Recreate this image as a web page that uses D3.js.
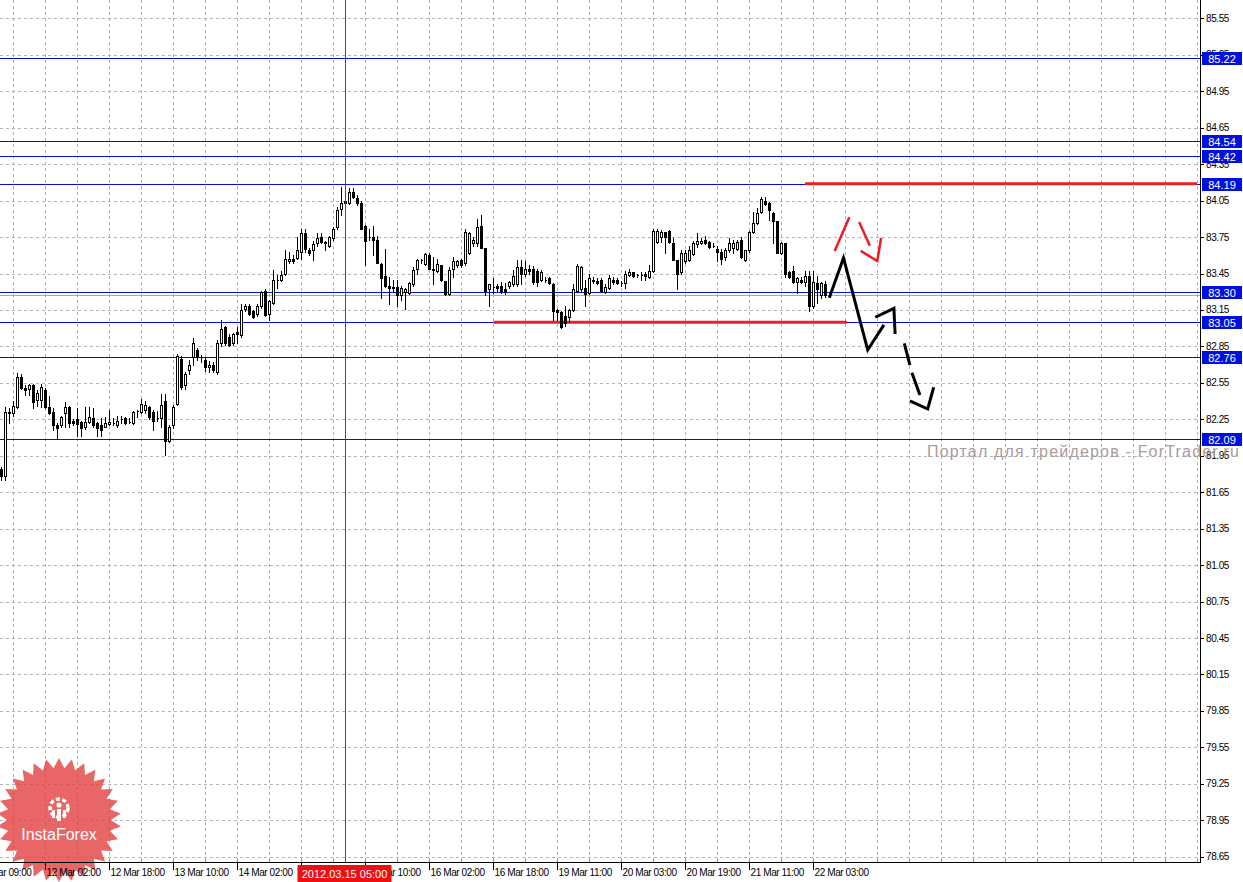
<!DOCTYPE html>
<html><head><meta charset="utf-8">
<script src="https://cdn.jsdelivr.net/npm/d3@7"></script>
<style>html,body{margin:0;padding:0;background:#fff;overflow:hidden}</style>
</head><body><svg id="c" width="1243" height="882"></svg>
<script>
// ---------- DATA (H1 bars, index 0 = leftmost visible bar) ----------
const openP = [81.84,81.78,82.30,82.30,82.35,82.60,82.51,82.50,82.53,82.41,
82.41,82.49,82.35,82.31,82.20,82.20,82.30,82.35,82.24,82.25,
82.23,82.19,82.23,82.26,82.22,82.20,82.19,82.21,82.22,82.20,
82.25,82.26,82.23,82.22,82.32,82.31,82.33,82.35,82.31,82.26,
82.26,82.40,82.07,82.20,82.38,82.75,82.53,82.66,82.76,82.82,
82.76,82.74,82.68,82.70,82.64,82.88,83.01,82.93,82.88,82.97,
82.94,83.16,83.18,83.14,83.12,83.18,83.31,83.12,83.21,83.40,
83.40,83.45,83.55,83.57,83.58,83.63,83.78,83.64,83.64,83.70,
83.75,83.71,83.68,83.74,83.83,83.98,84.05,84.03,84.12,84.07,
84.03,83.84,83.75,83.75,83.73,83.53,83.43,83.35,83.34,83.34,
83.27,83.30,83.29,83.36,83.49,83.56,83.53,83.60,83.49,83.47,
83.52,83.39,83.28,83.49,83.52,83.56,83.54,83.62,83.70,83.70,
83.84,83.66,83.32,83.34,83.35,83.35,83.32,83.35,83.36,83.36,
83.50,83.45,83.49,83.49,83.47,83.40,83.40,83.41,83.36,83.15,
83.13,83.10,83.09,83.15,83.31,83.32,83.33,83.29,83.40,83.39,
83.40,83.30,83.33,83.40,83.40,83.37,83.37,83.44,83.46,83.44,
83.44,83.45,83.42,83.47,83.71,83.75,83.79,83.80,83.70,83.56,
83.46,83.55,83.56,83.61,83.69,83.70,83.73,83.71,83.68,83.65,
83.63,83.59,83.64,83.66,83.65,83.73,83.56,83.64,83.79,83.87,
83.96,84.05,84.03,83.95,83.88,83.62,83.70,83.46,83.47,83.38,
83.40,83.38,83.43,83.18,83.37,83.27,83.36];
const highP = [81.86,82.35,82.34,82.40,82.63,82.62,82.53,82.54,82.54,82.49,
82.54,82.51,82.44,82.34,82.22,82.28,82.39,82.36,82.25,82.34,
82.24,82.35,82.35,82.34,82.23,82.26,82.27,82.33,82.26,82.28,
82.28,82.27,82.26,82.32,82.33,82.42,82.40,82.36,82.33,82.32,
82.46,82.46,82.20,82.37,82.79,82.77,82.64,82.74,82.92,82.84,
82.78,82.76,82.73,82.72,82.90,83.07,83.02,82.95,82.96,83.01,
83.20,83.20,83.20,83.15,83.20,83.31,83.32,83.23,83.48,83.44,
83.47,83.64,83.63,83.60,83.75,83.82,83.82,83.66,83.72,83.78,
83.78,83.72,83.76,83.83,84.00,84.16,84.07,84.15,84.15,84.10,
84.05,83.85,83.82,83.84,83.76,83.54,83.65,83.42,83.40,83.40,
83.35,83.33,83.38,83.50,83.57,83.57,83.62,83.62,83.59,83.57,
83.52,83.39,83.50,83.59,83.56,83.57,83.82,83.79,83.75,83.90,
83.93,83.66,83.36,83.41,83.36,83.38,83.37,83.39,83.48,83.56,
83.56,83.55,83.52,83.51,83.49,83.48,83.42,83.42,83.37,83.16,
83.14,83.18,83.16,83.36,83.53,83.51,83.40,83.45,83.42,83.41,
83.41,83.36,83.44,83.42,83.41,83.39,83.47,83.49,83.46,83.45,
83.46,83.46,83.52,83.82,83.82,83.81,83.79,83.81,83.74,83.56,
83.64,83.64,83.68,83.72,83.78,83.74,83.76,83.72,83.70,83.68,
83.65,83.66,83.74,83.73,83.73,83.75,83.64,83.80,83.96,83.99,
84.08,84.08,84.04,83.96,83.88,83.71,83.70,83.47,83.51,83.42,
83.42,83.47,83.47,83.47,83.43,83.38,83.39];
const lowP = [81.75,81.75,82.22,82.28,82.34,82.50,82.45,82.45,82.34,82.36,
82.35,82.34,82.29,82.16,82.09,82.19,82.19,82.19,82.20,82.11,
82.11,82.17,82.22,82.19,82.11,82.11,82.19,82.20,82.20,82.19,
82.22,82.21,82.22,82.21,82.27,82.30,82.30,82.25,82.16,82.24,
82.19,81.96,82.06,82.18,82.37,82.50,82.50,82.62,82.70,82.74,
82.72,82.65,82.64,82.64,82.62,82.85,82.86,82.85,82.86,82.88,
82.93,83.14,83.11,83.08,83.10,83.17,83.10,83.07,83.20,83.33,
83.39,83.44,83.54,83.54,83.57,83.57,83.63,83.60,83.56,83.68,
83.70,83.64,83.67,83.73,83.82,83.93,84.01,84.02,84.07,84.01,
83.82,83.52,83.73,83.60,83.54,83.25,83.34,83.20,83.30,83.18,
83.23,83.16,83.28,83.35,83.45,83.54,83.52,83.49,83.36,83.46,
83.39,83.27,83.27,83.42,83.50,83.50,83.52,83.61,83.68,83.68,
83.66,83.27,83.18,83.29,83.30,83.29,83.28,83.33,83.35,83.35,
83.36,83.43,83.45,83.36,83.35,83.39,83.38,83.36,83.07,83.07,
83.00,83.02,83.05,83.14,83.30,83.31,83.18,83.28,83.37,83.36,
83.30,83.29,83.32,83.36,83.36,83.35,83.33,83.43,83.42,83.42,
83.40,83.40,83.41,83.46,83.70,83.71,83.62,83.70,83.56,83.32,
83.45,83.54,83.55,83.60,83.67,83.69,83.69,83.66,83.67,83.55,
83.53,83.56,83.63,83.62,83.64,83.58,83.55,83.63,83.78,83.86,
83.95,84.01,83.89,83.70,83.62,83.61,83.42,83.41,83.37,83.29,
83.37,83.35,83.14,83.17,83.21,83.25,83.26];
const closeP = [81.78,82.31,82.31,82.36,82.60,82.51,82.49,82.53,82.39,82.47,
82.52,82.35,82.30,82.20,82.18,82.27,82.35,82.22,82.22,82.21,
82.18,82.23,82.27,82.20,82.18,82.16,82.22,82.23,82.22,82.24,
82.25,82.22,82.23,82.31,82.32,82.38,82.37,82.27,82.24,82.26,
82.37,82.07,82.19,82.35,82.77,82.52,82.62,82.70,82.88,82.76,
82.76,82.68,82.70,82.66,82.88,82.99,82.88,82.86,82.95,82.95,
83.15,83.18,83.12,83.09,83.18,83.30,83.11,83.22,83.40,83.40,
83.44,83.57,83.57,83.55,83.64,83.78,83.65,83.62,83.69,83.74,
83.71,83.70,83.75,83.82,83.97,84.03,84.03,84.12,84.08,84.03,
83.82,83.72,83.75,83.73,83.54,83.41,83.35,83.33,83.33,83.27,
83.33,83.32,83.37,83.48,83.56,83.56,83.61,83.49,83.48,83.53,
83.40,83.28,83.48,83.55,83.55,83.52,83.79,83.78,83.73,83.83,
83.66,83.31,83.36,83.34,83.33,83.31,83.30,83.38,83.43,83.50,
83.45,83.49,83.47,83.38,83.38,83.46,83.40,83.37,83.14,83.13,
83.01,83.04,83.15,83.32,83.51,83.50,83.28,83.41,83.39,83.37,
83.31,83.34,83.41,83.38,83.37,83.37,83.45,83.46,83.43,83.44,
83.44,83.43,83.47,83.80,83.80,83.79,83.75,83.71,83.56,83.45,
83.62,83.62,83.64,83.70,83.72,83.72,83.70,83.67,83.68,83.63,
83.57,83.64,83.70,83.70,83.71,83.59,83.64,83.79,83.87,83.95,
84.06,84.02,83.97,83.88,83.62,83.70,83.45,83.42,83.38,83.41,
83.38,83.43,83.18,83.38,83.32,83.37,83.27];

// price axis tick labels
const priceTicks = [85.55,85.25,84.95,84.65,84.35,84.05,83.75,83.45,83.15,82.85,82.55,82.25,81.95,81.65,81.35,81.05,80.75,80.45,80.15,79.85,79.55,79.25,78.95,78.65];
// time axis labels: [bar index, label]
const timeLabelIdx = [-5,11,27,43,59,75,91,107,123,139,155,171,187,203];
const timeLabels = ["9 Mar 09:00","12 Mar 02:00","12 Mar 18:00","13 Mar 10:00","14 Mar 02:00","14 Mar 18:00","15 Mar 10:00","16 Mar 02:00","16 Mar 18:00","19 Mar 11:00","20 Mar 03:00","20 Mar 19:00","21 Mar 11:00","22 Mar 03:00"];
// horizontal levels (blue lines with labels)
const levels = [85.22,84.54,84.42,84.19,83.30,83.05,82.76,82.09];
const bidPrice = 83.27;
// red support/resistance segments: [startIdx, endIdx, price]
const redSegments = [[200.9,298.9,84.19],[123.1,211.4,83.05]];
// crosshair
const crossIdx = 86;
const crossLabel = "2012.03.15 05:00";
// forecast drawings: polylines of [barIdx, price]
const blackPaths = [
  [[206.95,83.251],[210.5,83.578],[216.55,82.821],[220.6,83.027]],
  [[218.45,83.090],[223.1,83.164],[223.4,82.952]],
  [[225.7,82.876],[227.1,82.697]],
  [[227.6,82.634],[229.6,82.450]],
  [[227.1,82.401],[231.55,82.335],[233.05,82.514]]
];
const redPaths = [
  [[208.3,83.636],[211.95,83.913]],
  [[214.4,83.874],[217.1,83.679]],
  [[214.8,83.636],[218.95,83.553],[219.9,83.745]]
];
const watermark = "Портал для трейдеров - ForTrader.ru";
const logoText = "InstaForex";

// ---------- LAYOUT ----------
const W = 1243, H = 882, plotR = 1200, plotB = 862;
const svg = d3.select('#c');
const x = d3.scaleLinear().domain([0, 206]).range([1.5, 825.5]);
const y = d3.scaleLinear().domain([78.65, 85.55]).range([856.7, 18.4]);
const FONT = '"Liberation Sans", Arial, sans-serif';

svg.append('rect').attr('width', W).attr('height', H).attr('fill', '#fff');

const plot = svg.append('g');
plot.append('clipPath').attr('id','clip').append('rect').attr('x',0).attr('y',0).attr('width',plotR).attr('height',plotB);
const pg = plot.append('g').attr('clip-path','url(#clip)');

// grid
const gridColor = '#b9b0ba';
pg.selectAll('line.hg').data(priceTicks).join('line')
  .attr('x1', 0).attr('x2', plotR)
  .attr('y1', d => Math.round(y(d)) + 0.5).attr('y2', d => Math.round(y(d)) + 0.5)
  .attr('stroke', gridColor).attr('stroke-dasharray', '3,3');
const vGrid = d3.range(3, 300, 8);
pg.selectAll('line.vg').data(vGrid).join('line')
  .attr('x1', d => x(d)).attr('x2', d => x(d))
  .attr('y1', 0).attr('y2', plotB)
  .attr('stroke', gridColor).attr('stroke-dasharray', '3,3');

// logo (semi transparent star)
const logo = svg.append('g').attr('opacity', 0.78);
{
  const cx = 59, cy = 820, R = 62, r = 52, n = 30;
  const pts = [];
  for (let k = 0; k < n * 2; k++) {
    const a = Math.PI * k / n - Math.PI / 2;
    const rr = k % 2 === 0 ? R : r;
    pts.push([cx + rr * Math.cos(a), cy + rr * Math.sin(a)]);
  }
  logo.append('path').attr('d', d3.line()(pts) + 'Z').attr('fill', '#e23c3a');
  const ic = logo.append('g').attr('transform', 'translate(59,808)');
  ic.append('circle').attr('r', 9).attr('fill', 'none').attr('stroke', '#fff').attr('stroke-width', 3.5).attr('stroke-dasharray', '4,2.5');
  ic.append('circle').attr('r', 7).attr('fill', '#e23c3a');
  ic.append('circle').attr('cy', -3).attr('r', 2.6).attr('fill', '#fff');
  ic.append('rect').attr('x', -2).attr('y', 1).attr('width', 4).attr('height', 12).attr('fill', '#fff');
  ic.append('rect').attr('x', -7).attr('y', 2).attr('width', 3).attr('height', 8).attr('fill', '#fff');
  ic.append('rect').attr('x', 4).attr('y', 2).attr('width', 3).attr('height', 8).attr('fill', '#fff');
  logo.append('text').attr('x', cx).attr('y', 840).attr('text-anchor', 'middle')
    .attr('font-family', FONT).attr('font-size', 16).attr('fill', '#fff').text(logoText);
}

// level lines
pg.append('line').attr('x1', 0).attr('x2', plotR)
  .attr('y1', Math.round(y(bidPrice)) + 0.5).attr('y2', Math.round(y(bidPrice)) + 0.5)
  .attr('stroke', '#a8a8a8');
pg.selectAll('line.lv').data(levels).join('line')
  .attr('x1', 0).attr('x2', plotR)
  .attr('y1', d => Math.round(y(d)) + 0.5).attr('y2', d => Math.round(y(d)) + 0.5)
  .attr('stroke', '#0010e0').attr('stroke-width', 1);

// red segments
pg.selectAll('line.rs').data(redSegments).join('line')
  .attr('x1', d => x(d[0])).attr('x2', d => x(d[1]))
  .attr('y1', d => y(d[2])).attr('y2', d => y(d[2]))
  .attr('stroke', '#e8202a').attr('stroke-width', 3);

// candles
const idx = d3.range(openP.length);
const cg = pg.append('g').attr('shape-rendering', 'crispEdges');
cg.selectAll('line.wk').data(idx).join('line')
  .attr('x1', i => x(i)).attr('x2', i => x(i))
  .attr('y1', i => Math.round(y(highP[i]))).attr('y2', i => Math.round(y(lowP[i])) + 1)
  .attr('stroke', '#000');
cg.selectAll('path.bd').data(idx).join('path')
  .attr('d', i => {
    const t = Math.round(y(Math.max(openP[i], closeP[i]))) + 0.5;
    const b = Math.round(y(Math.min(openP[i], closeP[i]))) + 0.5;
    const cx = x(i);
    return `M${cx - 1},${t}H${cx + 1}V${b}H${cx - 1}Z`;
  })
  .attr('fill', i => closeP[i] < openP[i] ? '#000' : '#fff')
  .attr('stroke', '#000');

// crosshair
pg.append('line').attr('x1', Math.floor(x(crossIdx)) + 0.5).attr('x2', Math.floor(x(crossIdx)) + 0.5)
  .attr('y1', 0).attr('y2', plotB).attr('stroke', '#e0101a');

// forecast drawings
const ln = d3.line().x(d => x(d[0])).y(d => y(d[1]));
pg.selectAll('path.bp').data(blackPaths).join('path')
  .attr('d', ln).attr('fill', 'none').attr('stroke', '#000').attr('stroke-width', 3)
  .attr('stroke-linejoin', 'miter');
pg.selectAll('path.rp').data(redPaths).join('path')
  .attr('d', ln).attr('fill', 'none').attr('stroke', '#ee1c24').attr('stroke-width', 2.5);

// axes
svg.append('line').attr('x1', plotR + 0.5).attr('x2', plotR + 0.5).attr('y1', 0).attr('y2', plotB + 1).attr('stroke', '#000');
svg.append('line').attr('x1', 0).attr('x2', plotR + 1).attr('y1', plotB + 0.5).attr('y2', plotB + 0.5).attr('stroke', '#000');

const ya = svg.append('g');
ya.selectAll('line').data(priceTicks).join('line')
  .attr('x1', plotR).attr('x2', plotR + 4)
  .attr('y1', d => Math.round(y(d)) + 0.5).attr('y2', d => Math.round(y(d)) + 0.5).attr('stroke', '#000');
ya.selectAll('text').data(priceTicks).join('text')
  .attr('x', plotR + 6).attr('y', d => y(d) + 3.5)
  .attr('font-family', FONT).attr('font-size', 10).attr('letter-spacing', '-0.4px').attr('fill', '#000')
  .text(d => d.toFixed(2));

const xa = svg.append('g');
xa.selectAll('line').data(timeLabelIdx).join('line')
  .attr('x1', d => Math.floor(x(d)) + 0.5).attr('x2', d => Math.floor(x(d)) + 0.5)
  .attr('y1', plotB).attr('y2', plotB + 8).attr('stroke', '#000');
xa.selectAll('line.sm').data(vGrid).join('line')
  .attr('x1', d => Math.floor(x(d)) + 0.5).attr('x2', d => Math.floor(x(d)) + 0.5)
  .attr('y1', plotB - 3).attr('y2', plotB).attr('stroke', '#888');
xa.selectAll('text').data(timeLabelIdx).join('text')
  .attr('x', d => x(d) + 1).attr('y', 876)
  .attr('font-family', FONT).attr('font-size', 10).attr('letter-spacing', '-0.4px').attr('fill', '#000')
  .text((d, k) => timeLabels[k]);

// level label boxes
svg.append('rect').attr('x', 1202).attr('y', Math.round(y(levels[4])) + 6).attr('width', 31).attr('height', 1).attr('fill', '#222');
const lb = svg.append('g');
lb.selectAll('rect').data(levels).join('rect')
  .attr('x', 1202).attr('y', d => Math.round(y(d)) - 6).attr('width', 40).attr('height', 13)
  .attr('fill', '#0010e0');
lb.selectAll('text').data(levels).join('text')
  .attr('x', 1222).attr('y', d => Math.round(y(d)) + 4.5).attr('text-anchor', 'middle')
  .attr('font-family', FONT).attr('font-size', 11).attr('fill', '#fff')
  .text(d => d.toFixed(2));

// crosshair time box
const cxp = x(crossIdx);
svg.append('rect').attr('x', cxp - 48).attr('y', 865).attr('width', 94).attr('height', 17).attr('fill', '#ee1010');
svg.append('text').attr('x', cxp - 1).attr('y', 878).attr('text-anchor', 'middle')
  .attr('font-family', FONT).attr('font-size', 11).attr('fill', '#fff').text(crossLabel);

// watermark
svg.append('text').attr('x', 927).attr('y', 457)
  .attr('font-family', FONT).attr('font-size', 16).attr('fill', '#a89c9c')
  .attr('textLength', 312).attr('lengthAdjust', 'spacing')
  .text(watermark);
</script>
</body></html>
